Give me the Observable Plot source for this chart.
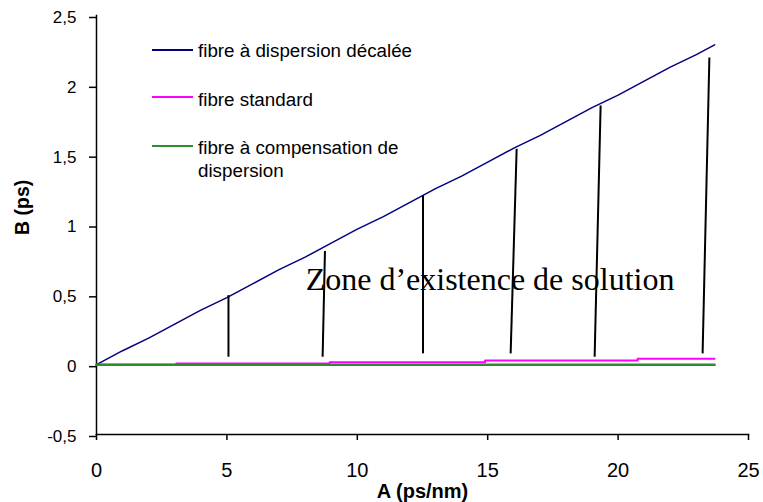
<!DOCTYPE html>
<html>
<head>
<meta charset="utf-8">
<script src="https://cdn.jsdelivr.net/npm/d3@7"></script>
<script src="https://cdn.jsdelivr.net/npm/@observablehq/plot@0.6"></script>
<style>
  html, body { margin: 0; padding: 0; background: #fff; }
  #wrap { position: relative; width: 763px; height: 502px; font-family: "Liberation Sans", Arial, sans-serif; }
  .sw { position: absolute; left: 152px; width: 41px; height: 2px; }
  .lt { position: absolute; left: 198px; font-size: 18.8px; line-height: 23px; color: #000; white-space: nowrap; }
</style>
</head>
<body>
<div id="wrap"></div>
<script>
// ---- data ----
const seriesNames = ["fibre à dispersion décalée", "fibre standard", "fibre à compensation de dispersion"];

// fibre à dispersion décalée
const blueX = [0, 1, 2, 3, 4, 5, 6, 7, 8, 9, 10, 11, 12, 13, 14, 15, 16, 17, 18, 19, 20, 21, 22, 23, 23.7];
const blueY = [0, 0.1, 0.19, 0.29, 0.39, 0.48, 0.58, 0.68, 0.77, 0.87, 0.97, 1.06, 1.16, 1.26, 1.35, 1.45, 1.55, 1.64, 1.74, 1.84, 1.93, 2.03, 2.13, 2.22, 2.29];

// fibre standard (staircase)
const pinkX = [0, 3.06, 8.94, 14.9, 20.75, 23.7];
const pinkY = [0, 0.008, 0.018, 0.03, 0.043, 0.043];

// fibre à compensation de dispersion
const greenX = [0, 23.7];
const greenY = [0, 0];

// hand-drawn vertical strokes marking the solution zone (bottom -> top)
const zoneBottomX = [5.06, 8.67, 12.52, 15.88, 19.1, 23.24];
const zoneBottomY = [0.057, 0.057, 0.081, 0.081, 0.057, 0.081];
const zoneTopX = [5.06, 8.76, 12.52, 16.11, 19.33, 23.5];
const zoneTopY = [0.498, 0.814, 1.212, 1.546, 1.855, 2.2];

const zoneText = ["Zone d’existence de solution"];
const zoneTextX = [8.02];
const zoneTextY = [0.532];

const xTicks = [0, 5, 10, 15, 20, 25];
const yTicks = [-0.5, 0, 0.5, 1, 1.5, 2, 2.5];
const xTitle = "A (ps/nm)";
const yTitle = "B (ps)";

// ---- styles ----
const seriesColors = ["#000080", "#ff00ff", "#2e8b2e"];
const seriesWidths = [1.5, 2, 2.5];

// ---- tables ----
const blue = blueX.map((x, i) => ({x, y: blueY[i]}));
const pink = pinkX.map((x, i) => ({x, y: pinkY[i]}));
const green = greenX.map((x, i) => ({x, y: greenY[i]}));
const zone = zoneBottomX.map((x, i) => ({x1: x, y1: zoneBottomY[i], x2: zoneTopX[i], y2: zoneTopY[i]}));
const label = zoneText.map((t, i) => ({t, x: zoneTextX[i], y: zoneTextY[i]}));

const fmt = d => String(d).replace(".", ",");

const chart = Plot.plot({
  width: 763,
  height: 502,
  marginTop: 15,
  marginBottom: 68,
  marginLeft: 96,
  marginRight: 15,
  style: {fontFamily: "'Liberation Sans', Arial, sans-serif", color: "#000", background: "#fff", overflow: "visible"},
  x: {domain: [0, 25]},
  y: {domain: [-0.5, 2.5]},
  marks: [
    Plot.frame({anchor: "left", stroke: "#000", strokeWidth: 1.5}),
    Plot.frame({anchor: "bottom", stroke: "#000", strokeWidth: 1.5}),
    Plot.axisY({ticks: yTicks, tickFormat: fmt, tickSize: 7, tickPadding: 13, fontSize: 17, label: null, stroke: "#000", strokeWidth: 1.5, dy: 2}),
    Plot.axisX({ticks: xTicks, tickFormat: fmt, tickSize: 6, tickPadding: 22, fontSize: 20, label: null, stroke: "#000", strokeWidth: 1.5}),
    Plot.text([yTitle], {text: d => d, frameAnchor: "left", rotate: -90, lineAnchor: "bottom", dx: -68, dy: 10, fontSize: 19.5, fontWeight: "bold"}),
    Plot.text([xTitle], {text: d => d, frameAnchor: "bottom", lineAnchor: "bottom", dy: 63, fontSize: 20, fontWeight: "bold"}),
    Plot.line(blue, {x: "x", y: "y", stroke: seriesColors[0], strokeWidth: seriesWidths[0]}),
    Plot.line(pink, {x: "x", y: "y", curve: "step-after", stroke: seriesColors[1], strokeWidth: seriesWidths[1]}),
    Plot.line(green, {x: "x", y: "y", stroke: seriesColors[2], strokeWidth: seriesWidths[2]}),
    Plot.link(zone, {x1: "x1", y1: "y1", x2: "x2", y2: "y2", stroke: "#000", strokeWidth: 2}),
    Plot.text(label, {x: "x", y: "y", text: "t", textAnchor: "start", lineAnchor: "bottom", fontFamily: "'Liberation Serif', 'Times New Roman', serif", fontSize: 32, fill: "#000"})
  ]
});

const wrap = document.getElementById("wrap");
wrap.appendChild(chart);

// legend (HTML overlay inside the plot area)
const legendRows = [
  {name: seriesNames[0], color: seriesColors[0], lineTop: 49, textTop: 39},
  {name: seriesNames[1], color: seriesColors[1], lineTop: 96, textTop: 88},
  {name: seriesNames[2], color: seriesColors[2], lineTop: 145, textTop: 136}
];
const wrapLabels = ["fibre à compensation de<br>dispersion"];
legendRows.forEach((r, i) => {
  const sw = document.createElement("div");
  sw.className = "sw";
  sw.style.top = r.lineTop + "px";
  sw.style.background = r.color;
  wrap.appendChild(sw);
  const t = document.createElement("div");
  t.className = "lt";
  t.style.top = r.textTop + "px";
  if (i === 2) t.innerHTML = wrapLabels[0]; else t.textContent = r.name;
  wrap.appendChild(t);
});
</script>
</body>
</html>
